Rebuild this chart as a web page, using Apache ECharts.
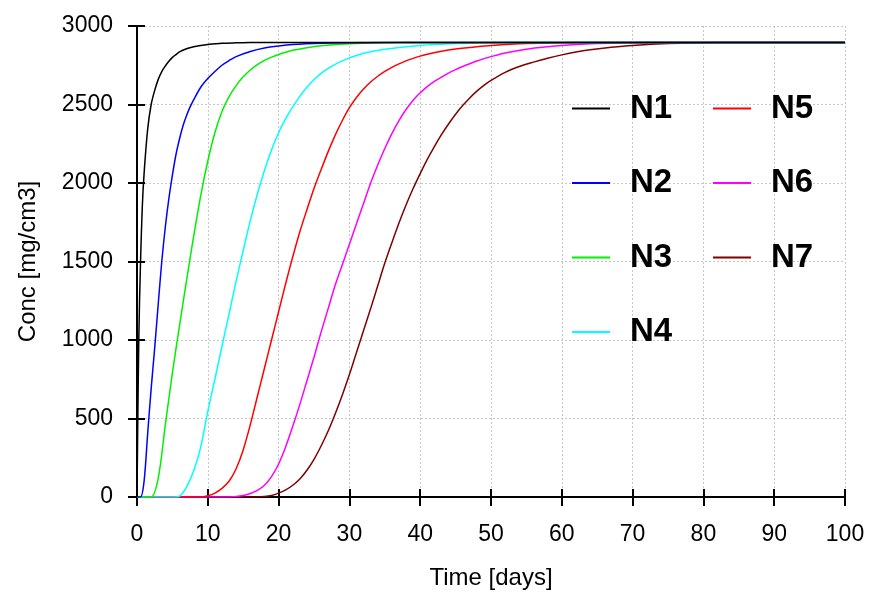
<!DOCTYPE html>
<html>
<head>
<meta charset="utf-8">
<script src="https://cdn.jsdelivr.net/npm/echarts@6/dist/echarts.min.js"></script>
<style>html,body{margin:0;padding:0;background:#fff;}#chart{width:870px;height:597px;}</style>
</head>
<body>
<div id="chart"></div>
<script>
// Data: [day, concentration]
const N1 = [[0,0],[0.25,1000],[0.5,1500],[0.75,1850],[1,2060],[1.5,2340],[2,2500],[2.5,2590],[3,2660],[3.5,2710],[4,2745],[4.5,2775],[5,2800],[5.5,2818],[6,2835],[7,2855],[8,2868],[9,2876],[10,2882],[12,2890],[14,2893],[16,2895],[100,2895]];
const N2 = [[0,0],[0.5,0],[1,100],[1.5,400],[2,690],[2.5,950],[3,1230],[3.5,1500],[4,1720],[4.5,1900],[5,2050],[5.5,2180],[6,2280],[6.5,2365],[7,2430],[7.5,2485],[8,2530],[9,2610],[10,2665],[11,2710],[12,2750],[13,2780],[14,2805],[16,2838],[18,2860],[20,2873],[22,2882],[26,2890],[30,2893],[40,2895],[100,2895]];
const N3 = [[0,0],[1,0],[2,0],[3,120],[4,460],[5,790],[6,1090],[7,1380],[8,1660],[9,1920],[10,2140],[11,2320],[12,2455],[13,2550],[14,2620],[15,2676],[16,2720],[17,2754],[18,2781],[19,2802],[20,2819],[22,2845],[24,2862],[26,2874],[30,2887],[35,2893],[40,2895],[100,2895]];
const N4 = [[0,0],[5,0],[6,5],[7,64],[8,165],[9,318],[10,545],[11,750],[12,960],[13,1165],[14,1375],[15,1570],[16,1760],[17,1930],[18,2080],[19,2210],[20,2320],[21,2410],[22,2485],[23,2552],[24,2610],[25,2658],[26,2698],[27,2730],[28,2756],[29,2778],[30,2797],[32,2826],[35,2852],[40,2876],[45,2888],[50,2893],[55,2895],[100,2895]];
const N5 = [[0,0],[9,0],[10,8],[11,25],[12,55],[13,100],[14,180],[15,300],[16,460],[17,640],[18,820],[19,1000],[20,1180],[21,1360],[22,1530],[23,1690],[24,1830],[25,1965],[26,2085],[27,2200],[28,2305],[29,2398],[30,2480],[31,2545],[32,2598],[33,2643],[34,2680],[35,2711],[36,2737],[37,2759],[38,2778],[39,2794],[40,2808],[41,2820],[43,2839],[45,2853],[48,2868],[50,2876],[55,2888],[60,2893],[65,2895],[100,2895]];
const N6 = [[0,0],[13,0],[14,3],[15,10],[16,22],[17,42],[18,75],[19,130],[20,210],[21,320],[22,450],[23,590],[24,740],[25,890],[26,1050],[27,1200],[28,1350],[29,1480],[30,1610],[31,1740],[32,1870],[33,2000],[34,2115],[35,2220],[36,2315],[37,2398],[38,2468],[39,2527],[40,2575],[41,2614],[42,2647],[43,2675],[44,2700],[45,2722],[46,2742],[47,2760],[48,2777],[49,2792],[50,2805],[52,2828],[55,2852],[58,2868],[60,2876],[65,2888],[70,2893],[75,2895],[100,2895]];
const N7 = [[0,0],[17,0],[18,3],[19,10],[20,25],[21,45],[22,75],[23,115],[24,170],[25,240],[26,325],[27,420],[28,530],[29,650],[30,780],[31,920],[32,1060],[33,1200],[34,1345],[35,1490],[36,1620],[37,1745],[38,1860],[39,1965],[40,2060],[41,2150],[42,2232],[43,2308],[44,2376],[45,2438],[46,2493],[47,2542],[48,2585],[49,2622],[50,2653],[52,2705],[54,2742],[56,2770],[58,2795],[60,2816],[62,2834],[64,2848],[67,2864],[70,2876],[75,2888],[80,2893],[85,2895],[100,2895]];
const seriesNames = ['N1','N2','N3','N4','N5','N6','N7'];
const seriesData = [N1,N2,N3,N4,N5,N6,N7];
const seriesColors = ['#000000','#0000ff','#00f000','#00ffff','#ff0000','#ff00ff','#800000'];
const xTicks = {min:0, max:100, interval:10};
const yTicks = {min:0, max:3000, interval:500};

const FONT = 'Liberation Sans';
const gridPos = {left:137, top:26, width:708, height:471};

const chart = echarts.init(document.getElementById('chart'), null, {renderer:'canvas'});
const series = seriesNames.map((n,i)=>({
  name:n, type:'line', data:seriesData[i], xAxisIndex:0, yAxisIndex:0,
  showSymbol:false, smooth:0.3,
  lineStyle:{color:seriesColors[i], width:1.5}, itemStyle:{color:seriesColors[i]},
  z: 10 - i
}));

const legendCommon = {
  orient:'vertical', padding:0, icon:'rect', itemWidth:38, itemHeight:2,
  itemGap:40.5,
  textStyle:{fontFamily:FONT, fontWeight:'bold', fontSize:33, color:'#000', lineHeight:34, padding:[0,0,0,15]},
  selectedMode:false
};

chart.setOption({
  animation:false,
  backgroundColor:'#ffffff',
  grid:[Object.assign({containLabel:false}, gridPos), Object.assign({containLabel:false}, gridPos)],
  legend:[
    Object.assign({left:572, top:91.5, data:['N1','N2','N3','N4']}, legendCommon),
    Object.assign({left:713, top:91.5, data:['N5','N6','N7']}, legendCommon)
  ],
  xAxis:[
    {type:'value', gridIndex:0, min:xTicks.min, max:xTicks.max, interval:xTicks.interval, position:'bottom',
     name:'Time [days]', nameLocation:'middle', nameGap:69,
     nameTextStyle:{fontFamily:FONT, fontSize:24, color:'#000'},
     axisLine:{show:true, onZero:false, lineStyle:{color:'#000', width:2}},
     axisTick:{show:true, inside:false, length:9, lineStyle:{color:'#000', width:2}},
     axisLabel:{fontFamily:FONT, fontSize:23, color:'#000', margin:26, formatter:(v)=>String(v)},
     splitLine:{show:true, lineStyle:{color:'#c8c8c8', width:1, type:[2,2]}}},
    {type:'value', gridIndex:1, min:xTicks.min, max:xTicks.max, interval:xTicks.interval, position:'bottom',
     axisLine:{show:false, onZero:false}, axisTick:{show:true, inside:true, length:8, lineStyle:{color:'#000', width:2}},
     axisLabel:{show:false}, splitLine:{show:false}}
  ],
  yAxis:[
    {type:'value', gridIndex:0, min:yTicks.min, max:yTicks.max, interval:yTicks.interval, position:'left',
     name:'Conc [mg/cm3]', nameLocation:'middle', nameGap:97, nameRotate:90,
     nameTextStyle:{fontFamily:FONT, fontSize:24, color:'#000'},
     axisLine:{show:true, onZero:false, lineStyle:{color:'#000', width:2}},
     axisTick:{show:true, inside:false, length:9, lineStyle:{color:'#000', width:2}},
     axisLabel:{fontFamily:FONT, fontSize:23, color:'#000', margin:24, formatter:(v)=>String(v)},
     splitLine:{show:true, lineStyle:{color:'#c8c8c8', width:1, type:[2,2]}}},
    {type:'value', gridIndex:1, min:yTicks.min, max:yTicks.max, interval:yTicks.interval, position:'left',
     axisLine:{show:false, onZero:false}, axisTick:{show:true, inside:true, length:8, lineStyle:{color:'#000', width:2}},
     axisLabel:{show:false}, splitLine:{show:false}}
  ],
  series: series
});
</script>
</body>
</html>
